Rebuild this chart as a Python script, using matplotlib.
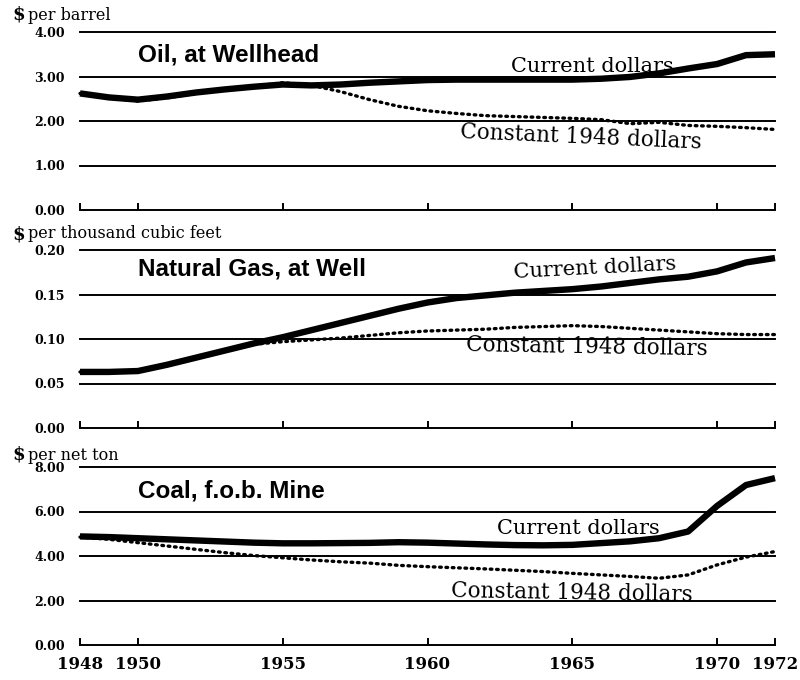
import matplotlib
matplotlib.use("Agg")
import matplotlib.pyplot as plt
import numpy as np

years = list(range(1948, 1973))

oil_current = [2.62, 2.53, 2.48, 2.55, 2.64, 2.71, 2.77, 2.82, 2.80, 2.82, 2.86, 2.89, 2.92,
               2.93, 2.93, 2.93, 2.93, 2.93, 2.95, 2.99, 3.07, 3.18, 3.28, 3.48, 3.50]
oil_constant = [2.62, 2.52, 2.45, 2.52, 2.62, 2.70, 2.78, 2.86, 2.80, 2.66, 2.48, 2.33, 2.23,
                2.17, 2.12, 2.10, 2.08, 2.06, 2.03, 1.94, 1.97, 1.90, 1.88, 1.85, 1.81]

gas_current = [0.063, 0.063, 0.064, 0.071, 0.079, 0.087, 0.095, 0.102, 0.110, 0.118, 0.126,
               0.134, 0.141, 0.146, 0.149, 0.152, 0.154, 0.156, 0.159, 0.163, 0.167, 0.170,
               0.176, 0.186, 0.191]
gas_constant = [0.063, 0.063, 0.064, 0.071, 0.079, 0.087, 0.094, 0.097, 0.099, 0.101, 0.104,
                0.107, 0.109, 0.110, 0.111, 0.113, 0.114, 0.115, 0.114, 0.112, 0.110, 0.108,
                0.106, 0.105, 0.105]

coal_current = [4.88, 4.85, 4.80, 4.75, 4.70, 4.65, 4.60, 4.57, 4.57, 4.58, 4.59, 4.62, 4.60,
                4.56, 4.52, 4.49, 4.48, 4.50, 4.58, 4.66, 4.80, 5.10, 6.25, 7.19, 7.50]
coal_constant = [4.85, 4.75, 4.60, 4.45, 4.30, 4.15, 4.02, 3.92, 3.82, 3.74, 3.68, 3.58, 3.52,
                 3.47, 3.42, 3.36, 3.30, 3.22, 3.15, 3.08, 3.00, 3.15, 3.60, 3.95, 4.20]

oil_ticks = [0.0, 1.0, 2.0, 3.0, 4.0]
gas_ticks = [0.00, 0.05, 0.10, 0.15, 0.20]
coal_ticks = [0.0, 2.0, 4.0, 6.0, 8.0]
year_ticks = [1948, 1950, 1955, 1960, 1965, 1970, 1972]

titles = ["Oil, at Wellhead", "Natural Gas, at Well", "Coal, f.o.b. Mine"]
units = ["per barrel", "per thousand cubic feet", "per net ton"]
label_current = "Current dollars"
label_constant = "Constant 1948 dollars"

W, H = 800, 680
fig = plt.figure(figsize=(W / 100, H / 100), dpi=100)
fig.patch.set_facecolor("white")

SERIF = ["DejaVu Serif", "Liberation Serif"]
SANS = ["Liberation Sans", "DejaVu Sans"]

x0, x1 = 80, 775
panels = [
    dict(top=32, bot=210, ticks=oil_ticks, cur=oil_current, con=oil_constant,
         title_pos=(1950.0, 3.49), cur_pos=(1965.7, 3.22, 0), con_pos=(1965.3, 1.64, -2.5),
         unit_y=15),
    dict(top=250, bot=428, ticks=gas_ticks, cur=gas_current, con=gas_constant,
         title_pos=(1950.0, 0.179), cur_pos=(1965.8, 0.179, 3), con_pos=(1965.5, 0.091, -1),
         unit_y=234),
    dict(top=467, bot=645, ticks=coal_ticks, cur=coal_current, con=coal_constant,
         title_pos=(1950.0, 6.92), cur_pos=(1965.2, 5.24, 0), con_pos=(1965.0, 2.34, -1),
         unit_y=455),
]

for i, p in enumerate(panels):
    ax = fig.add_axes([x0 / W, (H - p["bot"]) / H, (x1 - x0) / W, (p["bot"] - p["top"]) / H])
    ax.set_xlim(1948, 1972)
    ax.set_ylim(p["ticks"][0], p["ticks"][-1])
    for s in ax.spines.values():
        s.set_visible(False)
    for t in p["ticks"]:
        ax.axhline(t, color="black", lw=1.4, zorder=1, clip_on=False)
    ax.set_yticks(p["ticks"])
    ax.set_yticklabels([f"{t:.2f}" for t in p["ticks"]], fontfamily=SERIF,
                       fontweight="bold", fontsize=9)
    ax.tick_params(axis="y", length=0, pad=11)
    ax.set_xticks(year_ticks)
    ax.tick_params(axis="x", direction="in", length=5, width=1.4, color="black", pad=8)
    if i == 2:
        ax.set_xticklabels([str(y) for y in year_ticks], fontfamily=SERIF,
                           fontweight="bold", fontsize=12)
    else:
        ax.set_xticklabels([])
    ax.plot(years, p["cur"], color="black", lw=4.6, solid_capstyle="butt", zorder=3,
            clip_on=False)
    ax.plot(years, p["con"], color="black", lw=2.4, linestyle=(0, (0.5, 1.4)),
            dash_capstyle="round", zorder=2, clip_on=False)
    ax.text(*p["title_pos"], titles[i], ha="left", va="center", fontfamily=SANS,
            fontweight="bold", fontsize=17.5, zorder=4)
    cx, cy, cr = p["cur_pos"]
    ax.text(cx, cy, label_current, ha="center", va="center", fontfamily=SERIF,
            fontsize=15, rotation=cr, zorder=4)
    kx, ky, kr = p["con_pos"]
    ax.text(kx, ky, label_constant, ha="center", va="center", fontfamily=SERIF,
            fontsize=15.5, rotation=kr, zorder=4)
    fig.text(12 / W, 1 - p["unit_y"] / H, "\\$", fontfamily=SERIF, fontweight="bold",
             fontsize=13, ha="left", va="center")
    fig.text(28 / W, 1 - p["unit_y"] / H, units[i], fontfamily=SERIF,
             fontsize=11.5, ha="left", va="center")

fig.savefig("out.png", dpi=100, facecolor="white")
